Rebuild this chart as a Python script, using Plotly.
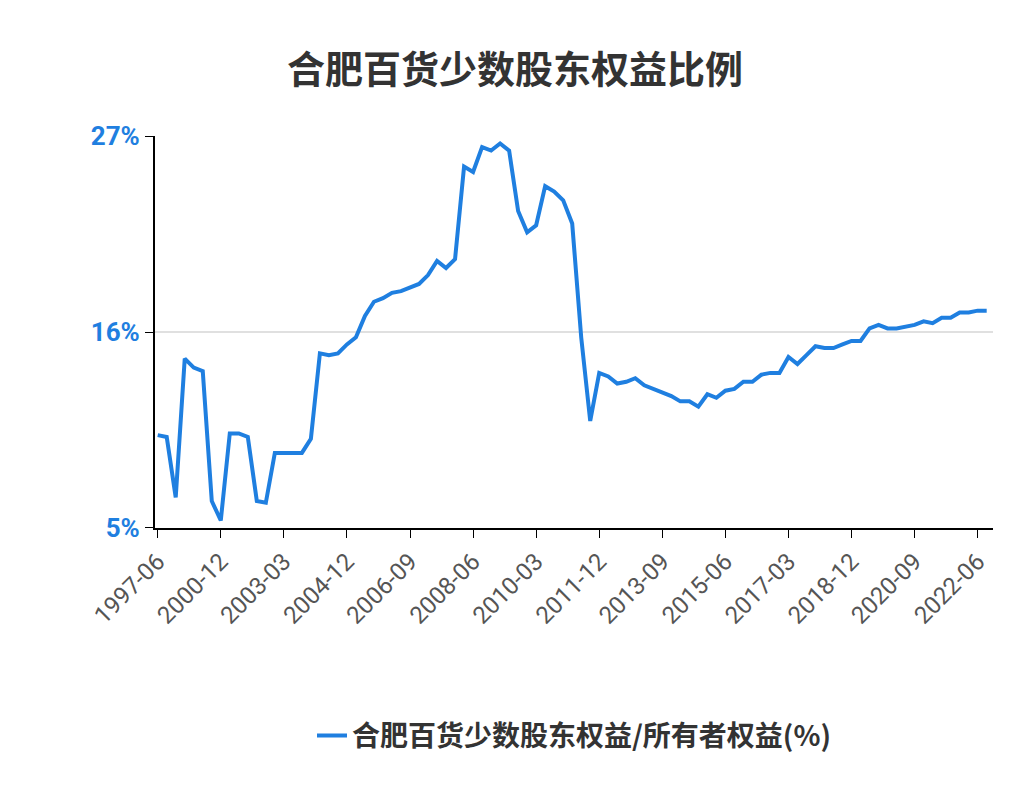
import plotly.graph_objects as go

dates = [f"{y}-{m}" for y in range(1997, 2002) for m in ("06", "12")]
dates += [f"{y}-{m}" for y in range(2002, 2023) for m in ("03", "06", "09", "12")]
dates = dates[:dates.index("2022-09") + 1]

values = [10.2, 10.1, 6.7, 14.5, 14.0, 13.8, 6.5, 5.4, 10.3, 10.3,
          10.1, 6.5, 6.4, 9.2, 9.2, 9.2, 9.2, 10.0, 14.8, 14.7,
          14.8, 15.3, 15.7, 16.9, 17.7, 17.9, 18.2, 18.3, 18.5, 18.7,
          19.2, 20.0, 19.6, 20.1, 25.3, 25.0, 26.4, 26.2, 26.6, 26.2,
          22.8, 21.6, 22.0, 24.2, 23.9, 23.4, 22.1, 15.7, 11.0, 13.7,
          13.5, 13.1, 13.2, 13.4, 13.0, 12.8, 12.6, 12.4, 12.1, 12.1,
          11.8, 12.5, 12.3, 12.7, 12.8, 13.2, 13.2, 13.6, 13.7, 13.7,
          14.6, 14.2, 14.7, 15.2, 15.1, 15.1, 15.3, 15.5, 15.5, 16.2,
          16.4, 16.2, 16.2, 16.3, 16.4, 16.6, 16.5, 16.8, 16.8, 17.1,
          17.1, 17.2, 17.2]

tick_labels = dates[::7]

fig = go.Figure(go.Scatter(x=dates, y=values, mode="lines",
                           line=dict(color="#1f7fe0", width=4),
                           name="<b>合肥百货少数股东权益/所有者权益(%)</b>"))
fig.update_layout(
    width=1014, height=810, plot_bgcolor="white", paper_bgcolor="white",
    margin=dict(l=147, r=29, t=128, b=290, autoexpand=False),
    font=dict(family="Noto Sans CJK SC, Roboto, sans-serif"),
    title=dict(text="<b>合肥百货少数股东权益比例</b>", x=0.5, y=0.94, xanchor="center",
               font=dict(size=38, color="#333", family="Noto Sans CJK SC")),
    showlegend=True,
    legend=dict(orientation="h", x=0.5, xanchor="center", y=-0.53, yanchor="middle",
                font=dict(size=28, color="#333")),
)
fig.update_xaxes(type="category", tickmode="array", tickvals=tick_labels,
                 ticktext=tick_labels, tickangle=-45, showline=True,
                 linecolor="black", linewidth=2, ticks="outside", ticklen=8,
                 tickcolor="black", showgrid=False, automargin=False,
                 tickfont=dict(size=24, color="#555", family="Roboto"),
                 range=[-0.3, len(dates) - 0.3])
fig.update_yaxes(range=[4.98, 27.02], tickvals=[5, 16, 27],
                 ticktext=["<b>5%</b>", "<b>16%</b>", "<b>27%</b>"],
                 showline=True, linecolor="black", linewidth=2, ticks="outside",
                 ticklen=8, tickcolor="black", gridcolor="#e0e0e0", gridwidth=2,
                 zeroline=False, automargin=False,
                 tickfont=dict(size=26, color="#1f7fe0", family="Roboto"))
fig.write_html("out.html")
